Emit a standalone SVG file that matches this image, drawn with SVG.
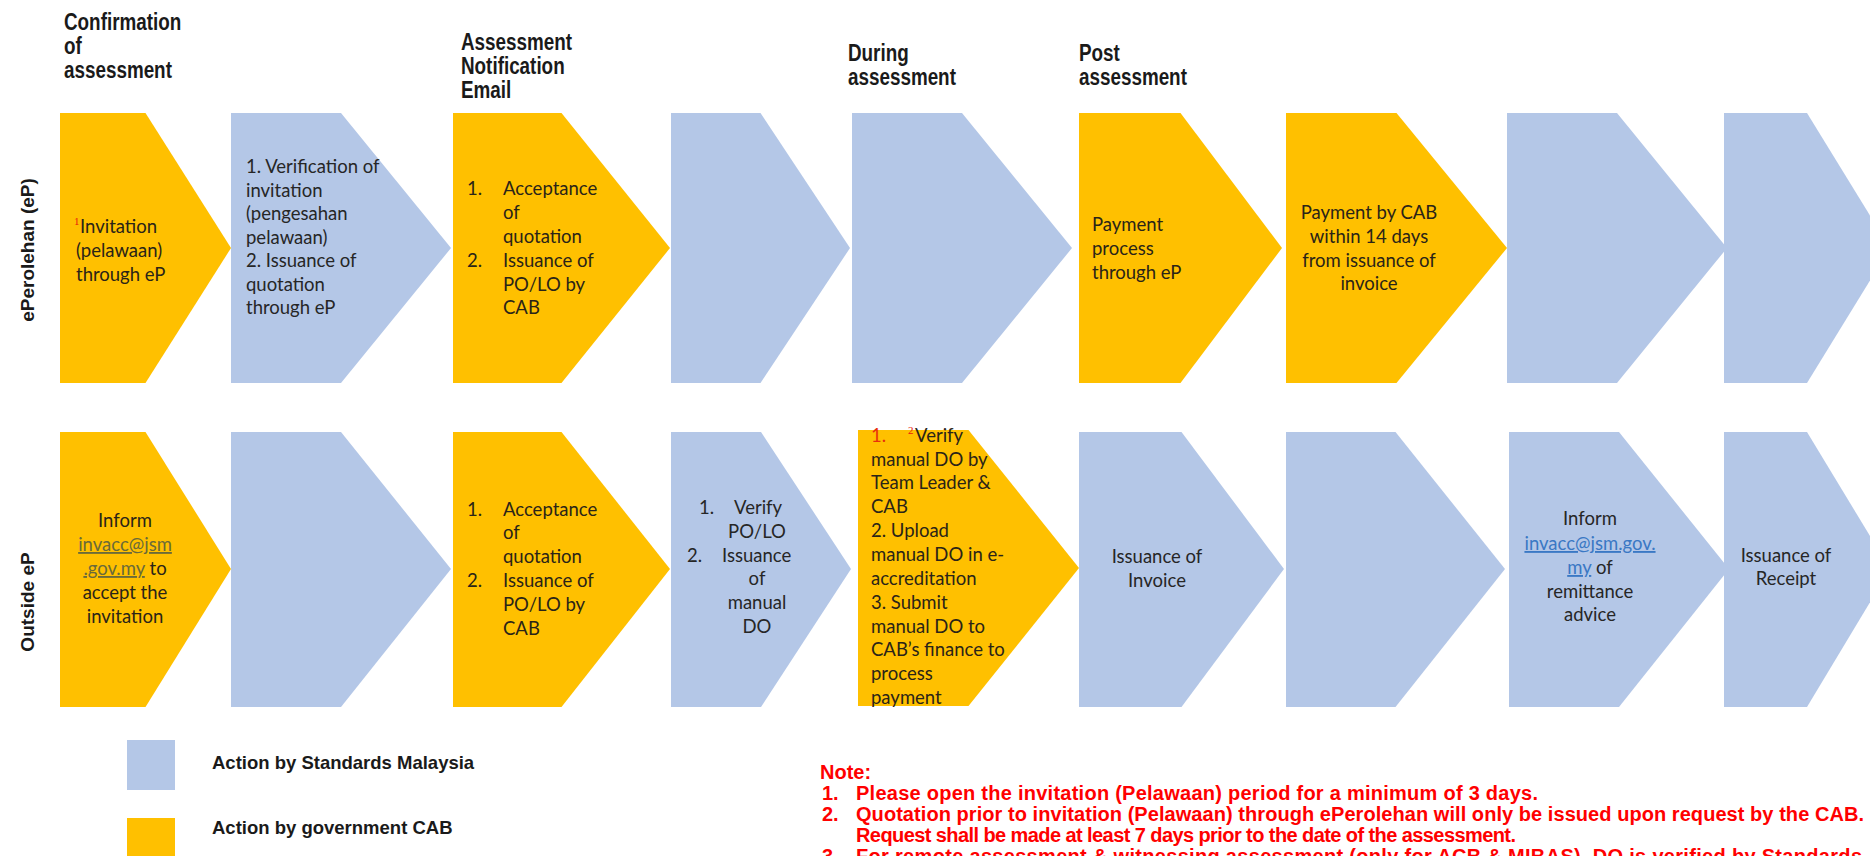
<svg xmlns="http://www.w3.org/2000/svg" width="1870" height="856" viewBox="0 0 1870 856">
<style>
.y{fill:#FFC000}
.b{fill:#B4C7E7}
.hdr{font-family:"Liberation Sans",Arial,sans-serif;font-weight:bold;font-size:23px;fill:#1a1a1a}
.lane{font-family:"Liberation Sans",Arial,sans-serif;font-weight:bold;font-size:19px;fill:#1a1a1a}
.t{font-family:Lato,"Open Sans",sans-serif;font-size:18.5px;fill:#2a2418}
.tb{font-family:Lato,"Open Sans",sans-serif;font-size:18.5px;fill:#262626}
.c{text-anchor:middle}
.sup{font-size:11px;fill:#e8180c}
.red{fill:#e8300c}
.lnk1{fill:#6a6a3a;text-decoration:underline}
.lnk2{fill:#3a78c4;text-decoration:underline}
.leg{font-family:"Liberation Sans",Arial,sans-serif;font-weight:bold;font-size:18.5px;fill:#1a1a1a}
.note{font-family:"Liberation Sans",Arial,sans-serif;font-weight:bold;font-size:20px;fill:#ff0000}
</style>
<g id="headers">
<text class="hdr" transform="translate(64,30) scale(0.82,1)">Confirmation</text>
<text class="hdr" transform="translate(64,54) scale(0.82,1)">of</text>
<text class="hdr" transform="translate(64,78) scale(0.82,1)">assessment</text>
<text class="hdr" transform="translate(461,50) scale(0.82,1)">Assessment</text>
<text class="hdr" transform="translate(461,74) scale(0.82,1)">Notification</text>
<text class="hdr" transform="translate(461,98) scale(0.82,1)">Email</text>
<text class="hdr" transform="translate(848,61) scale(0.82,1)">During</text>
<text class="hdr" transform="translate(848,85) scale(0.82,1)">assessment</text>
<text class="hdr" transform="translate(1079,61) scale(0.82,1)">Post</text>
<text class="hdr" transform="translate(1079,85) scale(0.82,1)">assessment</text>
</g>
<g id="lane-labels">
<text class="lane c" transform="translate(34,250) rotate(-90)">ePerolehan (eP)</text>
<text class="lane c" transform="translate(34,602) rotate(-90)">Outside eP</text>
</g>
<g id="connectors"></g>
<!-- Row 1 -->
<g id="r1-n1"><path class="y" d="M60,113H145.5L231,248L145.5,383H60Z"/>
<text class="sup" x="74" y="225">1</text><text class="t" x="80" y="233">Invitation</text>
<text class="t" x="76" y="257">(pelawaan)</text>
<text class="t" x="76" y="281">through eP</text></g>
<g id="r1-n2"><path class="b" d="M231,113H341L451,248L341,383H231Z"/>
<text class="tb" x="246" y="173">1. Verification of</text>
<text class="tb" x="246" y="196.5">invitation</text>
<text class="tb" x="246" y="220">(pengesahan</text>
<text class="tb" x="246" y="243.5">pelawaan)</text>
<text class="tb" x="246" y="267">2. Issuance of</text>
<text class="tb" x="246" y="290.5">quotation</text>
<text class="tb" x="246" y="314">through eP</text></g>
<g id="r1-n3"><path class="y" d="M453,113H561.5L670,248L561.5,383H453Z"/>
<text class="t" x="467" y="195">1.</text><text class="t" x="503" y="195">Acceptance</text>
<text class="t" x="503" y="219">of</text>
<text class="t" x="503" y="243">quotation</text>
<text class="t" x="467" y="267">2.</text><text class="t" x="503" y="267">Issuance of</text>
<text class="t" x="503" y="291">PO/LO by</text>
<text class="t" x="503" y="314">CAB</text></g>
<g id="r1-n4"><path class="b" d="M671,113H760.5L850,248L760.5,383H671Z"/></g>
<g id="r1-n5"><path class="b" d="M852,113H962L1072,248L962,383H852Z"/></g>
<g id="r1-n6"><path class="y" d="M1079,113H1180.5L1282,248L1180.5,383H1079Z"/>
<text class="t" x="1092" y="231">Payment</text>
<text class="t" x="1092" y="255">process</text>
<text class="t" x="1092" y="279">through eP</text></g>
<g id="r1-n7"><path class="y" d="M1286,113H1396.5L1507,248L1396.5,383H1286Z"/>
<text class="t c" x="1369" y="219">Payment by CAB</text>
<text class="t c" x="1369" y="243">within 14 days</text>
<text class="t c" x="1369" y="267">from issuance of</text>
<text class="t c" x="1369" y="290">invoice</text></g>
<g id="r1-n8"><path class="b" d="M1507,113H1617L1727,248L1617,383H1507Z"/></g>
<g id="r1-n9"><path class="b" d="M1724,113H1807L1890,248L1807,383H1724Z"/></g>
<!-- Row 2 -->
<g id="r2-n1"><path class="y" d="M60,432H145.5L231,569L145.5,707H60Z"/>
<text class="t c" x="125" y="527">Inform</text>
<text class="t c" x="125" y="551"><tspan class="lnk1">invacc@jsm</tspan></text>
<text class="t c" x="125" y="575"><tspan class="lnk1">.gov.my</tspan> to</text>
<text class="t c" x="125" y="599">accept the</text>
<text class="t c" x="125" y="623">invitation</text></g>
<g id="r2-n2"><path class="b" d="M231,432H341L451,569L341,707H231Z"/></g>
<g id="r2-n3"><path class="y" d="M453,432H561.5L670,569L561.5,707H453Z"/>
<text class="t" x="467" y="516">1.</text><text class="t" x="503" y="516">Acceptance</text>
<text class="t" x="503" y="539">of</text>
<text class="t" x="503" y="563">quotation</text>
<text class="t" x="467" y="587">2.</text><text class="t" x="503" y="587">Issuance of</text>
<text class="t" x="503" y="611">PO/LO by</text>
<text class="t" x="503" y="635">CAB</text></g>
<g id="r2-n4"><path class="b" d="M671,432H761L851,569L761,707H671Z"/>
<text class="tb" x="699" y="514">1.</text><text class="tb" x="734" y="514">Verify</text>
<text class="tb c" x="757" y="538">PO/LO</text>
<text class="tb" x="687" y="562">2.</text><text class="tb" x="722" y="562">Issuance</text>
<text class="tb c" x="757" y="585">of</text>
<text class="tb c" x="757" y="609">manual</text>
<text class="tb c" x="757" y="633">DO</text></g>
<g id="r2-n5"><path class="y" d="M858,430H968.5L1079,568L968.5,706H858Z"/>
<text class="t red" x="871" y="442">1.</text><text class="sup" x="908" y="434">2</text><text class="t" x="915" y="442">Verify</text>
<text class="t" x="871" y="466">manual DO by</text>
<text class="t" x="871" y="489">Team Leader &amp;</text>
<text class="t" x="871" y="513">CAB</text>
<text class="t" x="871" y="537">2. Upload</text>
<text class="t" x="871" y="561">manual DO in e-</text>
<text class="t" x="871" y="585">accreditation</text>
<text class="t" x="871" y="609">3. Submit</text>
<text class="t" x="871" y="633">manual DO to</text>
<text class="t" x="871" y="656">CAB’s finance to</text>
<text class="t" x="871" y="680">process</text>
<text class="t" x="871" y="704">payment</text></g>
<g id="r2-n6"><path class="b" d="M1079,432H1181.5L1284,569L1181.5,707H1079Z"/>
<text class="tb c" x="1157" y="563">Issuance of</text>
<text class="tb c" x="1157" y="587">Invoice</text></g>
<g id="r2-n7"><path class="b" d="M1286,432H1395.5L1505,569L1395.5,707H1286Z"/></g>
<g id="r2-n8"><path class="b" d="M1509,432H1619L1729,569L1619,707H1509Z"/>
<text class="tb c" x="1590" y="525">Inform</text>
<text class="tb c" x="1590" y="550"><tspan class="lnk2">invacc@jsm.gov.</tspan></text>
<text class="tb c" x="1590" y="574"><tspan class="lnk2">my</tspan> of</text>
<text class="tb c" x="1590" y="598">remittance</text>
<text class="tb c" x="1590" y="621">advice</text></g>
<g id="r2-n9"><path class="b" d="M1724,432H1807L1890,569L1807,707H1724Z"/>
<text class="tb c" x="1786" y="562">Issuance of</text>
<text class="tb c" x="1786" y="585">Receipt</text></g>
<g id="legend">
<rect class="b" x="127" y="740" width="48" height="50"/>
<text class="leg" x="212" y="769">Action by Standards Malaysia</text>
<rect class="y" x="127" y="818" width="48" height="50"/>
<text class="leg" x="212" y="834">Action by government CAB</text>
</g>
<g id="notes">
<text class="note" x="820" y="779">Note:</text>
<text class="note" x="822" y="800">1.</text><text class="note" x="856" y="800" textLength="682" lengthAdjust="spacing">Please open the invitation (Pelawaan) period for a minimum of 3 days.</text>
<text class="note" x="822" y="821">2.</text><text class="note" x="856" y="821" textLength="1008" lengthAdjust="spacing">Quotation prior to invitation (Pelawaan) through ePerolehan will only be issued upon request by the CAB.</text>
<text class="note" x="856" y="842" textLength="660" lengthAdjust="spacing">Request shall be made at least 7 days prior to the date of the assessment.</text>
<text class="note" x="822" y="863">3.</text><text class="note" x="856" y="863" textLength="1006" lengthAdjust="spacing">For remote assessment  &amp; witnessing assessment  (only for ACB &amp; MIBAS), DO is verified by Standards</text>
</g>
</svg>
